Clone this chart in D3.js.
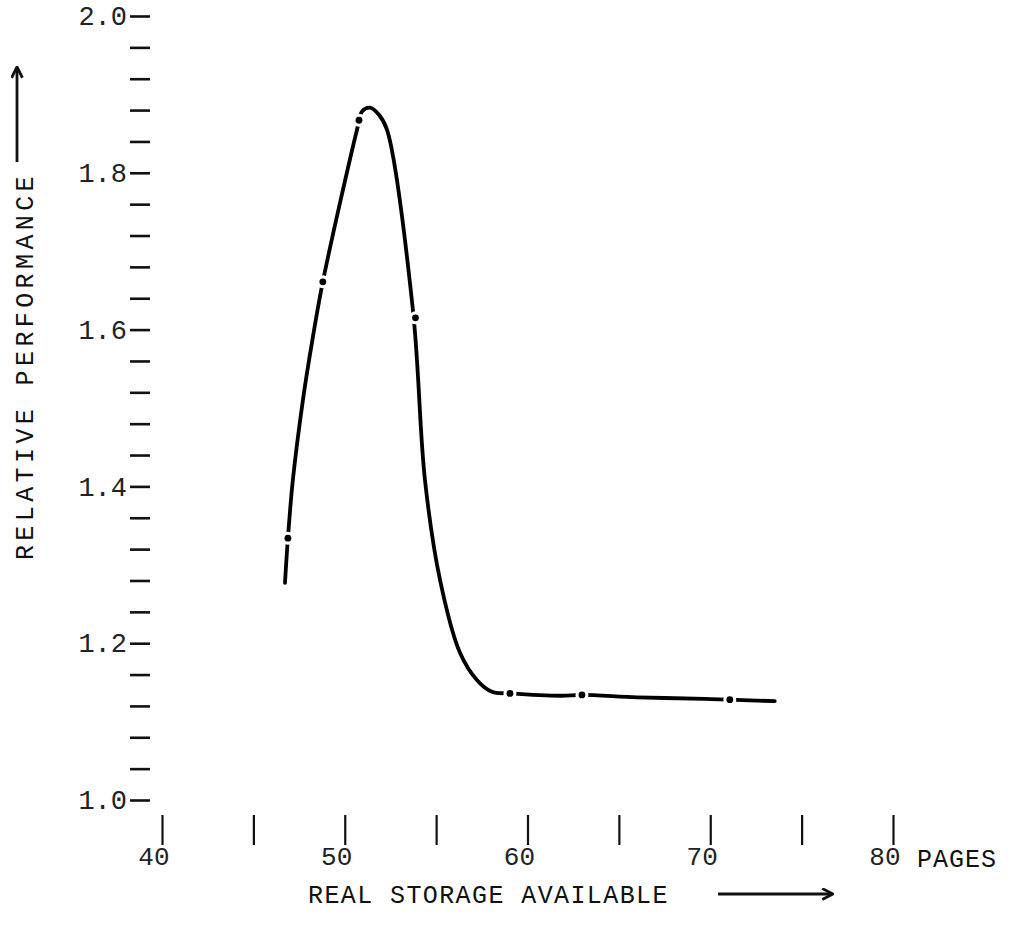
<!DOCTYPE html>
<html>
<head>
<meta charset="utf-8">
<script src="https://cdn.jsdelivr.net/npm/d3@7"></script>
<style>
  body { margin: 0; background: #fff; }
</style>
</head>
<body>
<div id="graph"></div>
<script>
const w = 1032;
const h = 926;

// curve (pages, relative performance)
const curvePages = [46.73, 46.89, 47.16, 47.71, 48.26, 48.80, 50.67, 50.94, 51.38, 51.87, 52.31, 53.73, 54.39, 55.21, 56.30, 57.23, 58.05, 59.04, 61.80, 62.98, 66.00, 69.70, 71.07, 73.53];
const curvePerf  = [1.277, 1.334, 1.408, 1.510, 1.591, 1.661, 1.855, 1.878, 1.883, 1.874, 1.855, 1.625, 1.408, 1.281, 1.188, 1.153, 1.138, 1.136, 1.133, 1.134, 1.131, 1.129, 1.128, 1.126];

// measured points (the dots on the curve)
const pointPages = [46.89, 48.80, 50.78, 53.87, 59.04, 62.98, 71.07];
const pointPerf  = [1.334, 1.661, 1.867, 1.615, 1.136, 1.134, 1.128];

const yMajor = [1.0, 1.2, 1.4, 1.6, 1.8, 2.0];
const xTicks = [40, 45, 50, 55, 60, 65, 70, 75, 80];
const xLabels = [40, 50, 60, 70, 80];

const font = "'Liberation Mono', 'DejaVu Sans Mono', monospace";

const xScale = d3.scaleLinear()
                 .domain([40, 80])
                 .range([162, 893]);

const yScale = d3.scaleLinear()
                 .domain([1.0, 2.0])
                 .range([800, 16]);

const svg = d3.select('#graph')
              .append('svg')
              .attr('width', w)
              .attr('height', h);

// y axis: dashes only, no spine
const yMinor = d3.range(0, 26).map(i => +(1.0 + i * 0.04).toFixed(2));

const yAxis = svg.append('g')
   .attr('transform', 'translate(150,0)')
   .call(d3.axisLeft(yScale)
           .tickValues(yMinor)
           .tickSize(20)
           .tickPadding(3)
           .tickFormat(d => yMajor.some(m => Math.abs(m - d) < 1e-6) ? d3.format('.1f')(d) : ''));
yAxis.select('.domain').remove();
yAxis.selectAll('line').attr('stroke', '#111').attr('stroke-width', 2.6);
yAxis.selectAll('text')
     .style('font-family', font)
     .style('font-size', '27px')
     .attr('fill', '#222');

// x axis: vertical ticks only
const xAxis = svg.append('g')
   .attr('transform', 'translate(0,815)')
   .call(d3.axisBottom(xScale)
           .tickValues(xTicks)
           .tickSize(30)
           .tickPadding(2)
           .tickFormat(d => xLabels.includes(d) ? d : ''));
xAxis.select('.domain').remove();
xAxis.selectAll('line').attr('stroke', '#111').attr('stroke-width', 2.2);
xAxis.selectAll('text')
     .style('font-family', font)
     .style('font-size', '26px')
     .attr('fill', '#222')
     .attr('text-anchor', 'end')
     .attr('dx', 7);

svg.append('text')
   .attr('x', 917)
   .attr('y', 867)
   .style('font-family', font)
   .style('font-size', '25px')
   .style('letter-spacing', '1px')
   .attr('fill', '#111')
   .text('PAGES');

// axis titles
svg.append('text')
   .attr('x', 308)
   .attr('y', 903)
   .style('font-family', font)
   .style('font-size', '25px')
   .style('letter-spacing', '1.4px')
   .attr('fill', '#111')
   .text('REAL STORAGE AVAILABLE');

svg.append('text')
   .attr('text-anchor', 'middle')
   .attr('transform', 'translate(33,366)rotate(-90)')
   .style('font-family', font)
   .style('font-size', '25px')
   .style('letter-spacing', '4.4px')
   .attr('fill', '#111')
   .text('RELATIVE PERFORMANCE');

// arrows
const arrow = svg.append('defs').append('marker')
   .attr('id', 'head')
   .attr('viewBox', '0 0 12 12')
   .attr('refX', 10)
   .attr('refY', 6)
   .attr('markerWidth', 13)
   .attr('markerHeight', 13)
   .attr('markerUnits', 'userSpaceOnUse')
   .attr('orient', 'auto');
arrow.append('path')
   .attr('d', 'M1,1 L11,6 L1,11')
   .attr('fill', 'none')
   .attr('stroke', '#111')
   .attr('stroke-width', 2.6);

svg.append('line')
   .attr('x1', 17).attr('y1', 162)
   .attr('x2', 17).attr('y2', 68)
   .attr('stroke', '#111')
   .attr('stroke-width', 2.8)
   .attr('marker-end', 'url(#head)');

svg.append('line')
   .attr('x1', 718).attr('y1', 894)
   .attr('x2', 832).attr('y2', 894)
   .attr('stroke', '#111')
   .attr('stroke-width', 2.8)
   .attr('marker-end', 'url(#head)');

// the curve
const curve = curvePages.map((p, i) => [p, curvePerf[i]]);
const points = pointPages.map((p, i) => [p, pointPerf[i]]);

svg.append('path')
   .datum(curve)
   .attr('fill', 'none')
   .attr('stroke', '#000')
   .attr('stroke-width', 3.8)
   .attr('stroke-linecap', 'round')
   .attr('d', d3.line()
                .curve(d3.curveCatmullRom.alpha(0.5))
                .x(d => xScale(d[0]))
                .y(d => yScale(d[1])));

// gaps round the dots, then the dots
svg.selectAll('circle.gap')
   .data(points)
   .enter()
   .append('circle')
   .attr('class', 'gap')
   .attr('cx', d => xScale(d[0]))
   .attr('cy', d => yScale(d[1]))
   .attr('r', 6.5)
   .attr('fill', '#fff');

svg.selectAll('circle.dot')
   .data(points)
   .enter()
   .append('circle')
   .attr('class', 'dot')
   .attr('cx', d => xScale(d[0]))
   .attr('cy', d => yScale(d[1]))
   .attr('r', 3.4)
   .attr('fill', '#000');
</script>
</body>
</html>
